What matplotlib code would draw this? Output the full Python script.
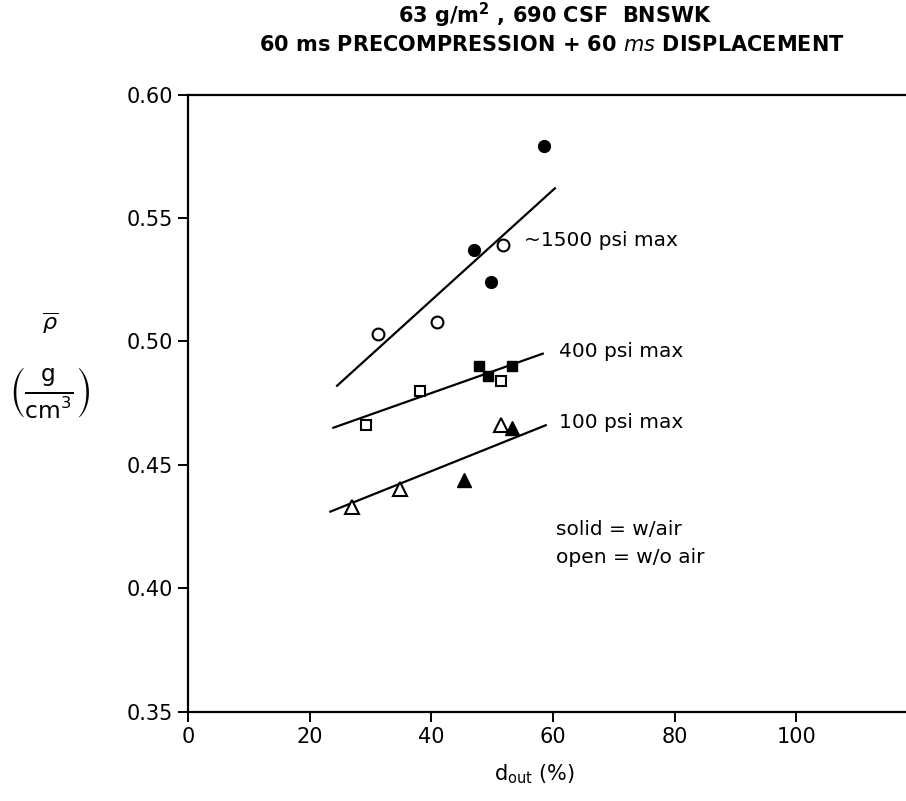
#!/usr/bin/env python3

import matplotlib
matplotlib.use("Agg")
import matplotlib.pyplot as plt

# --- data: d_out (%) vs mean density (g/cm3) ---

# ~1500 psi max
c_solid_x = [47.0, 49.8, 58.5]
c_solid_y = [0.537, 0.524, 0.579]
c_open_x = [31.3, 40.9, 51.7]
c_open_y = [0.503, 0.508, 0.539]
c_fit_x = [24.5, 60.3]
c_fit_y = [0.482, 0.562]

# 400 psi max
s_solid_x = [47.8, 49.3, 53.2]
s_solid_y = [0.490, 0.486, 0.490]
s_open_x = [29.3, 38.1, 51.4]
s_open_y = [0.466, 0.480, 0.484]
s_fit_x = [23.9, 58.3]
s_fit_y = [0.465, 0.495]

# 100 psi max
t_solid_x = [45.3, 53.2]
t_solid_y = [0.444, 0.465]
t_open_x = [27.0, 34.8, 51.4]
t_open_y = [0.433, 0.440, 0.466]
t_fit_x = [23.4, 58.8]
t_fit_y = [0.431, 0.466]

X_TICKS = [0, 20, 40, 60, 80, 100]
Y_TICKS = [0.35, 0.40, 0.45, 0.50, 0.55, 0.60]

plt.rcParams.update({
    "font.family": "DejaVu Sans",
    "mathtext.fontset": "dejavusans",
    "axes.linewidth": 1.6,
})

fig = plt.figure(figsize=(9.06, 8.01), dpi=100)
ax = fig.add_axes([0.2075, 0.1117, 0.7925, 0.7703])

LW = 1.6
MS = 8.5
FS = 14.5

# fitted lines
ax.plot(c_fit_x, c_fit_y, color="black", linewidth=LW, zorder=2)
ax.plot(s_fit_x, s_fit_y, color="black", linewidth=LW, zorder=2)
ax.plot(t_fit_x, t_fit_y, color="black", linewidth=LW, zorder=2)

# markers: solid = with air, open = without air
ax.plot(c_solid_x, c_solid_y, "o", color="black", markersize=MS, zorder=3)
ax.plot(c_open_x, c_open_y, "o", mfc="white", mec="black", mew=1.5,
        markersize=MS, zorder=3)
ax.plot(s_solid_x, s_solid_y, "s", color="black", markersize=MS - 1, zorder=3)
ax.plot(s_open_x, s_open_y, "s", mfc="white", mec="black", mew=1.5,
        markersize=MS - 1, zorder=3)
ax.plot(t_solid_x, t_solid_y, "^", color="black", markersize=MS + 1, zorder=3)
ax.plot(t_open_x, t_open_y, "^", mfc="white", mec="black", mew=1.5,
        markersize=MS + 1, zorder=3)

# curve labels
ax.text(55.2, 0.541, "~1500 psi max", fontsize=FS, va="center")
ax.text(61.0, 0.4957, "400 psi max", fontsize=FS, va="center")
ax.text(61.0, 0.467, "100 psi max", fontsize=FS, va="center")
ax.text(60.5, 0.4236, "solid = w/air", fontsize=FS, va="center")
ax.text(60.5, 0.4126, "open = w/o air", fontsize=FS, va="center")

ax.set_xlim(0, 118)
ax.set_ylim(0.35, 0.60)
ax.set_xticks(X_TICKS)
ax.set_xticklabels([str(v) for v in X_TICKS])
ax.set_yticks(Y_TICKS)
ax.set_yticklabels([f"{v:.2f}" for v in Y_TICKS])
ax.tick_params(direction="out", length=7, width=1.4, labelsize=15, pad=4)
ax.spines["right"].set_visible(False)

# titles
fig.text(0.613, 0.981, r"63 g/m$^{\mathbf{2}}$ , 690 CSF  BNSWK", ha="center",
         va="center", fontsize=15, fontweight="bold")
fig.text(0.609, 0.944, r"60 ms PRECOMPRESSION + 60 $\mathit{ms}$ DISPLACEMENT",
         ha="center", va="center", fontsize=15, fontweight="bold")

# y label: mean density with units
fig.text(0.055, 0.596, r"$\overline{\rho}$", ha="center", va="center",
         fontsize=16)
fig.text(0.055, 0.510, r"$\left(\frac{\mathrm{g}}{\mathrm{cm}^3}\right)$",
         ha="center", va="center", fontsize=24)

# x label
fig.text(0.59, 0.033, r"d$_{\mathrm{out}}$ (%)", ha="center", va="center",
         fontsize=15)

fig.savefig("out.png", dpi=100)
